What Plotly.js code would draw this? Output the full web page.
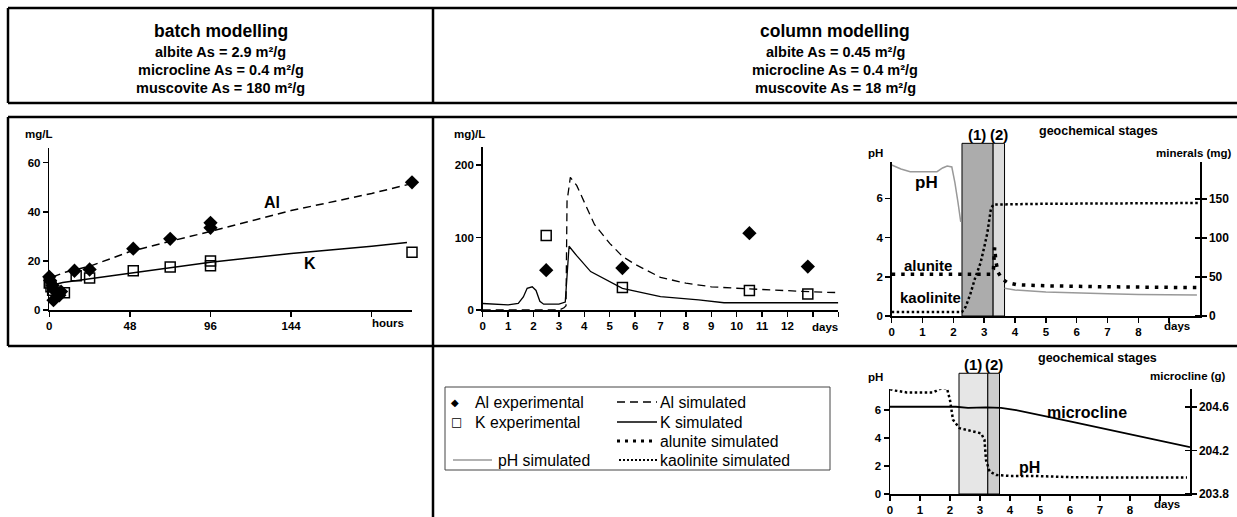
<!DOCTYPE html>
<html><head><meta charset="utf-8">
<script src="https://cdn.plot.ly/plotly-3.0.1.min.js"></script>
<style>html,body{margin:0;padding:0;background:#fff;} #chart{width:1237px;height:517px;}</style>
</head><body><div id="chart"></div>
<script>
// ---------- batch modelling (hours, mg/L) ----------
const batchAlExpT = [0, 0.5, 2, 3, 2.5, 6, 7, 15, 24, 50, 72, 96, 96, 216];
const batchAlExpV = [13.5, 12, 10, 8, 4, 6, 7.5, 16, 16.5, 25, 29, 35.5, 33.5, 52];
const batchKExpT = [0, 1, 2, 9, 16, 24, 50, 72, 96, 96, 216];
const batchKExpV = [11, 9.5, 8, 7, 14, 13, 16, 17.5, 20, 18, 23.5];
const batchAlSimT = [2, 10, 24, 48, 72, 96, 144, 192, 216];
const batchAlSimV = [13.5, 15.5, 17.8, 23.8, 28, 32, 40.5, 47.5, 51.5];
const batchKSimT = [1.5, 4, 8, 16, 24, 48, 96, 144, 192, 213];
const batchKSimV = [9.5, 10.5, 11.2, 12, 12.5, 15, 19.5, 23, 26, 27.5];
const batchTicks = [0, 48, 96, 144, 192];
const batchTickText = ['0', '48', '96', '144', ''];

// ---------- column modelling (days, mg/L) ----------
const colAlExpT = [2.5, 5.5, 10.5, 12.8];
const colAlExpV = [55, 58, 106, 60];
const colKExpT = [2.5, 5.5, 10.5, 12.8];
const colKExpV = [103, 31, 27, 22];
const colAlSimT = [0, 3.0, 3.2, 3.28, 3.32, 3.45, 3.7, 4.0, 4.4, 5.0, 5.5, 6.0, 7.0, 8.0, 9.0, 10.0, 11.0, 12.0, 13.0, 14.0];
const colAlSimV = [0, 0, 3, 6, 150, 183, 172, 148, 118, 92, 74, 63, 45, 37, 32, 30, 28, 26, 25, 24];
const colKSimT = [0, 0.5, 1.0, 1.4, 1.6, 1.75, 1.95, 2.1, 2.25, 2.4, 3.0, 3.25, 3.35, 3.4, 3.7, 4.25, 5.5, 7.0, 8.5, 9.5, 14];
const colKSimV = [9, 8, 7, 9, 18, 30, 32, 27, 12, 8, 8, 11, 60, 88, 75, 53, 30, 18.5, 14, 10, 10];
const colDayTicks = [0,1,2,3,4,5,6,7,8,9,10,11,12,13,14];
const colDayText = ['0','1','2','3','4','5','6','7','8','9','10','11','12','',''];

// ---------- geochemical stages: minerals ----------
const phT = [0, 0.3, 0.6, 1.0, 1.47, 1.65, 1.8, 1.95, 2.05, 2.15, 2.24, null, 3.66, 4.0, 5.0, 6.0, 7.0, 8.0, 9.0, 9.9];
const phV = [7.7, 7.5, 7.36, 7.35, 7.36, 7.55, 7.65, 7.6, 6.8, 5.8, 4.8, null, 1.41, 1.33, 1.22, 1.16, 1.13, 1.1, 1.08, 1.07];
const kaolT = [0, 2.28, 2.4, 2.55, 2.7, 2.88, 3.0, 3.1, 3.22, 3.3, 5, 10];
const kaolV = [5, 5, 12, 28, 48, 68, 88, 106, 138, 143, 144, 145];
const aluT = [0, 3.2, 3.3, 3.34, 3.38, 3.45, 3.58, 3.75, 4.07, 5.16, 7, 10];
const aluV = [53.5, 53.5, 60, 88, 70, 56, 47.6, 43, 40, 38.6, 37.5, 36.4];
const stageTop1 = [2.28, 3.29];
const stageTop2 = [3.29, 3.66];

// ---------- geochemical stages: microcline ----------
const ph2T = [0, 0.15, 0.55, 1.44, 1.71, 1.9, 2.0, 2.1, 2.32, 2.77, 3.04, 3.15, 3.2, 3.32, 3.54, 3.98, 4.76, 6.19, 9.9];
const ph2V = [7.48, 7.4, 7.26, 7.26, 7.55, 7.55, 6.7, 5.3, 4.7, 4.45, 4.33, 3.86, 2.43, 1.6, 1.36, 1.29, 1.29, 1.19, 1.17];
const micT = [0, 2.2, 2.6, 3.2, 3.7, 4.2, 6.0, 8.0, 10];
const micV = [204.6, 204.6, 204.59, 204.595, 204.59, 204.57, 204.465, 204.35, 204.23];
const stageBot1 = [2.3, 3.26];
const stageBot2 = [3.26, 3.65];
const stageDayTicks = [0,1,2,3,4,5,6,7,8,9];
const stageDayText = ['0','1','2','3','4','5','6','7','8',''];

// ---------- layout helpers ----------
const W = 1237, H = 517;
const FF = 'Liberation Sans, Arial, Helvetica, sans-serif';
const px = x => x / W;
const py = y => 1 - y / H;

function ax(extra) {
  return Object.assign({
    showline: true, linecolor: '#000', linewidth: 1.5,
    ticks: 'outside', ticklen: 5, tickwidth: 1.5, tickcolor: '#000',
    showgrid: false, zeroline: false, fixedrange: true,
    tickfont: {family: FF, size: 11.5, color: '#000', weight: 'bold'}
  }, extra);
}
function txt(x, y, t, size, opts) {
  return Object.assign({
    xref: 'paper', yref: 'paper', x: px(x), y: py(y), text: t, showarrow: false,
    xanchor: 'center', yanchor: 'middle',
    font: {family: FF, size: size, color: '#000', weight: 'bold'}
  }, opts || {});
}
function reg(x, y, t, size, opts) {
  const a = txt(x, y, t, size, Object.assign({xanchor: 'left'}, opts || {}));
  a.font.weight = 'normal';
  return a;
}
function ln(x0, y0, x1, y1, w, extra) {
  return Object.assign({type: 'line', xref: 'paper', yref: 'paper',
    x0: px(x0), y0: py(y0), x1: px(x1), y1: py(y1),
    line: {color: '#000', width: w || 2.5}}, extra || {});
}
function stage(xr, yr, s, top, fill) {
  return {type: 'rect', xref: xr, yref: yr + ' domain', x0: s[0], x1: s[1], y0: 0, y1: top,
    fillcolor: fill, line: {color: '#000', width: 1}, layer: 'below'};
}

// ---------- traces ----------
const traces = [
  {x: batchAlSimT, y: batchAlSimV, xaxis: 'x', yaxis: 'y', mode: 'lines', line: {color: '#000', width: 1.5, dash: '8px,5px'}},
  {x: batchKSimT, y: batchKSimV, xaxis: 'x', yaxis: 'y', mode: 'lines', line: {color: '#000', width: 1.5}},
  {x: batchAlExpT, y: batchAlExpV, xaxis: 'x', yaxis: 'y', mode: 'markers', cliponaxis: false, marker: {symbol: 'diamond', size: 11, color: '#000'}},
  {x: batchKExpT, y: batchKExpV, xaxis: 'x', yaxis: 'y', mode: 'markers', cliponaxis: false, marker: {symbol: 'square-open', size: 10, color: '#000', line: {width: 1.5}}},

  {x: colAlSimT, y: colAlSimV, xaxis: 'x2', yaxis: 'y2', mode: 'lines', line: {color: '#000', width: 1.3, dash: '8px,5px'}},
  {x: colKSimT, y: colKSimV, xaxis: 'x2', yaxis: 'y2', mode: 'lines', line: {color: '#000', width: 1.3}},
  {x: colAlExpT, y: colAlExpV, xaxis: 'x2', yaxis: 'y2', mode: 'markers', cliponaxis: false, marker: {symbol: 'diamond', size: 11, color: '#000'}},
  {x: colKExpT, y: colKExpV, xaxis: 'x2', yaxis: 'y2', mode: 'markers', cliponaxis: false, marker: {symbol: 'square-open', size: 10, color: '#000', line: {width: 1.5}}},

  {x: phT, y: phV, xaxis: 'x3', yaxis: 'y3', mode: 'lines', line: {color: '#999', width: 1.5}},
  {x: kaolT, y: kaolV, xaxis: 'x3', yaxis: 'y4', mode: 'lines', line: {color: '#000', width: 2.5, dash: '2.5px,2.5px'}},
  {x: aluT, y: aluV, xaxis: 'x3', yaxis: 'y4', mode: 'lines', line: {color: '#000', width: 3.5, dash: '3.5px,6px'}},

  {x: ph2T, y: ph2V, xaxis: 'x4', yaxis: 'y5', mode: 'lines', line: {color: '#000', width: 2.5, dash: '2.5px,2.5px'}},
  {x: micT, y: micV, xaxis: 'x4', yaxis: 'y6', mode: 'lines', line: {color: '#000', width: 1.8}}
];

const rightTickFont = {family: FF, size: 12, color: '#000', weight: 'bold'};

const layout = {
  width: W, height: H, margin: {l: 0, r: 0, t: 0, b: 0},
  paper_bgcolor: '#fff', plot_bgcolor: 'rgba(0,0,0,0)', showlegend: false,
  xaxis: ax({domain: [px(49.3), px(412)], range: [0, 216], anchor: 'y', tickmode: 'array', tickvals: batchTicks, ticktext: batchTickText}),
  yaxis: ax({domain: [py(310), py(148)], range: [0, 66], anchor: 'x', tickmode: 'array', tickvals: [0, 20, 40, 60]}),
  xaxis2: ax({domain: [px(482.7), px(838.3)], range: [0, 14], anchor: 'y2', tickmode: 'array', tickvals: colDayTicks, ticktext: colDayText}),
  yaxis2: ax({domain: [py(310), py(147)], range: [0, 225], anchor: 'x2', tickmode: 'array', tickvals: [0, 100, 200]}),
  xaxis3: ax({domain: [px(891.7), px(1200)], range: [0, 10], anchor: 'y3', tickmode: 'array', tickvals: stageDayTicks, ticktext: stageDayText}),
  yaxis3: ax({domain: [py(316), py(161.7)], range: [0, 7.87], anchor: 'x3', tickmode: 'array', tickvals: [0, 2, 4, 6]}),
  yaxis4: ax({overlaying: 'y3', side: 'right', anchor: 'x3', range: [0, 198], tickmode: 'array', tickvals: [0, 50, 100, 150], tickfont: rightTickFont,
    minor: {tickmode: 'array', tickvals: [0, 50, 100, 150], ticks: 'inside', ticklen: 5, tickwidth: 1.5, tickcolor: '#000', showgrid: false}}),
  xaxis4: ax({domain: [px(890), px(1190)], range: [0, 10], anchor: 'y5', tickmode: 'array', tickvals: stageDayTicks, ticktext: stageDayText}),
  yaxis5: ax({domain: [py(494), py(389.3)], range: [0, 7.48], anchor: 'x4', tickmode: 'array', tickvals: [0, 2, 4, 6]}),
  yaxis6: ax({overlaying: 'y5', side: 'right', anchor: 'x4', range: [203.8, 204.76], tickmode: 'array', tickvals: [203.8, 204.2, 204.6], ticktext: ['203.8', '204.2', '204.6'], tickfont: rightTickFont,
    minor: {tickmode: 'array', tickvals: [203.8, 204.2, 204.6], ticks: 'inside', ticklen: 5, tickwidth: 1.5, tickcolor: '#000', showgrid: false}}),
  shapes: [
    // table borders
    ln(8, 8, 1237, 8), ln(8, 103, 1237, 103), ln(8, 8, 8, 103), ln(433, 8, 433, 103),
    ln(8, 117, 1237, 117), ln(8, 346, 1237, 346), ln(8, 117, 8, 346), ln(433, 117, 433, 517),
    // stage rectangles
    stage('x3', 'y3', stageTop1, 1.119, '#acacac'),
    stage('x3', 'y3', stageTop2, 1.119, '#dcdcdc'),
    stage('x4', 'y5', stageBot1, 1.153, '#e6e6e6'),
    stage('x4', 'y5', stageBot2, 1.153, '#cdcdcd'),
    // legend
    {type: 'rect', xref: 'paper', yref: 'paper', x0: px(445), x1: px(830), y0: py(470), y1: py(387), line: {color: '#444', width: 1}},
    ln(617, 402, 657, 402, 1.3, {line: {color: '#000', width: 1.3, dash: '8px,5px'}}),
    ln(617, 422, 657, 422, 1.3),
    ln(617, 441, 657, 441, 3, {line: {color: '#000', width: 3, dash: '3px,5px'}}),
    ln(619, 460, 657, 460, 2, {line: {color: '#000', width: 2, dash: '2px,2px'}}),
    ln(453, 460, 492, 460, 1.5, {line: {color: '#999', width: 1.5}})
  ],
  annotations: [
    txt(220.5, 31, 'batch modelling', 17.5),
    txt(220.5, 52, 'albite As = 2.9 m²/g', 14.5),
    txt(220.5, 70, 'microcline As = 0.4 m²/g', 14.5),
    txt(220.5, 88, 'muscovite As = 180 m²/g', 14.5),
    txt(835, 31, 'column modelling', 17.5),
    txt(835, 52, 'albite As = 0.45 m²/g', 14.5),
    txt(835, 70, 'microcline As = 0.4 m²/g', 14.5),
    txt(835, 88, 'muscovite As = 18 m²/g', 14.5),

    txt(38, 134, 'mg/L', 11.5),
    txt(272, 202, 'Al', 16),
    txt(310, 263, 'K', 16),
    txt(388, 323, 'hours', 11.5),

    txt(469, 134, 'mg)/L', 11.5),
    txt(825, 327, 'days', 11.5),

    txt(875, 153, 'pH', 11.5),
    txt(1234, 153, 'minerals (mg)', 11.5, {xanchor: 'right'}),
    txt(1098, 131, 'geochemical stages', 12.5),
    txt(977, 135, '(1)', 15),
    txt(999, 135, '(2)', 15),
    txt(926, 182, 'pH', 17),
    txt(928, 265, 'alunite', 15),
    txt(930, 297, 'kaolinite', 15),
    txt(1177, 326, 'days', 11.5),

    txt(875, 377, 'pH', 11.5),
    txt(1228, 376, 'microcline (g)', 11.5, {xanchor: 'right'}),
    txt(1097, 358, 'geochemical stages', 12.5),
    txt(973, 364, '(1)', 15),
    txt(994, 364, '(2)', 15),
    txt(1087, 412, 'microcline', 16),
    txt(1029, 467, 'pH', 16),
    txt(1167, 504, 'days', 11.5),

    reg(449, 402, '◆', 10, {font: {family: 'DejaVu Sans', size: 10, color: '#000'}}),
    reg(449, 422, '□', 12, {font: {family: 'DejaVu Sans', size: 12, color: '#000'}}),
    reg(473, 402, 'Al experimental', 15.8),
    reg(473, 422, 'K experimental', 15.8),
    reg(496, 460, 'pH simulated', 15.8),
    reg(658, 402, 'Al simulated', 15.8),
    reg(658, 422, 'K simulated', 15.8),
    reg(658, 441, 'alunite simulated', 15.8),
    reg(658, 460, 'kaolinite simulated', 15.8)
  ]
};

Plotly.newPlot('chart', traces, layout, {displayModeBar: false, staticPlot: true});
</script></body></html>
